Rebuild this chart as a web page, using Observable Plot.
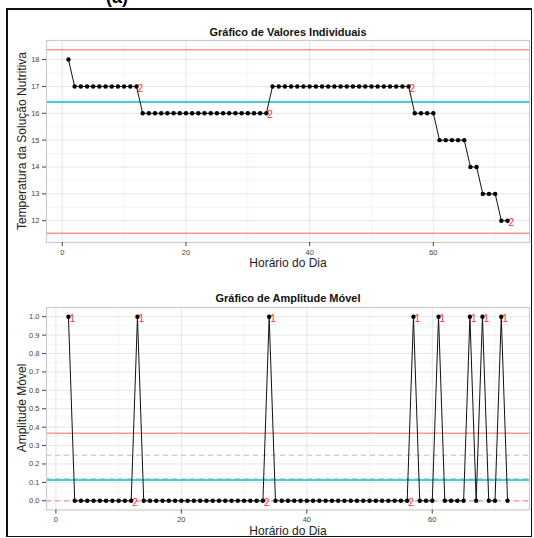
<!DOCTYPE html>
<html>
<head>
<meta charset="utf-8">
<script src="https://cdn.jsdelivr.net/npm/d3@7"></script>
<script src="https://cdn.jsdelivr.net/npm/@observablehq/plot@0.6"></script>
<style>
  html, body { margin:0; padding:0; background:#fff; }
  body { width:534px; height:538px; position:relative; overflow:hidden; font-family:"Liberation Sans", Arial, sans-serif; }
  .abs { position:absolute; line-height:1; }
  .frameBox { left:6px; top:8px; width:523px; height:526px; border:2px solid #111; border-right-width:1px; border-bottom-width:1px; }
  .title { font-weight:bold; font-size:11px; color:#111; transform:translateX(-50%); white-space:nowrap; }
  .xlab { font-size:12px; color:#222; transform:translateX(-50%); white-space:nowrap; }
  .ylab { font-size:12px; color:#222; white-space:nowrap; transform:translate(-50%,-50%) rotate(-90deg); }
  svg { position:absolute; left:0; }
</style>
</head>
<body>
<script>
// ---- data ----
const hours = [1,2,3,4,5,6,7,8,9,10,11,12,13,14,15,16,17,18,19,20,21,22,23,24,25,26,27,28,29,30,31,32,33,34,35,36,37,38,39,40,41,42,43,44,45,46,47,48,49,50,51,52,53,54,55,56,57,58,59,60,61,62,63,64,65,66,67,68,69,70,71,72];
const temperatura = [18,17,17,17,17,17,17,17,17,17,17,17,16,16,16,16,16,16,16,16,16,16,16,16,16,16,16,16,16,16,16,16,16,17,17,17,17,17,17,17,17,17,17,17,17,17,17,17,17,17,17,17,17,17,17,17,16,16,16,16,15,15,15,15,15,14,14,13,13,13,12,12];
const mrHours = [2,3,4,5,6,7,8,9,10,11,12,13,14,15,16,17,18,19,20,21,22,23,24,25,26,27,28,29,30,31,32,33,34,35,36,37,38,39,40,41,42,43,44,45,46,47,48,49,50,51,52,53,54,55,56,57,58,59,60,61,62,63,64,65,66,67,68,69,70,71,72];
const amplitude = [1,0,0,0,0,0,0,0,0,0,0,1,0,0,0,0,0,0,0,0,0,0,0,0,0,0,0,0,0,0,0,0,1,0,0,0,0,0,0,0,0,0,0,0,0,0,0,0,0,0,0,0,0,0,0,1,0,0,0,1,0,0,0,0,1,0,1,0,0,1,0];
// rule-violation labels
const topFlagHours = [12,33,56,72];
const topFlagValues = [17,16,17,12];
const topFlagText = ["2","2","2","2"];
const botFlagHours = [2,13,34,57,61,66,68,71,12,33,56];
const botFlagValues = [1,1,1,1,1,1,1,1,0,0,0];
const botFlagText = ["1","1","1","1","1","1","1","1","2","2","2"];
// control limits
const topLimits = {ucl:18.37, center:16.42, lcl:11.53};
const botLimits = {ucl:0.367, center:0.1127, lcl:0, zoneA:0.247, zoneB:0.121};
// ticks
const xTicks = [0,20,40,60];
const xMinor = [10,30,50,70];
const topYTicks = [12,13,14,15,16,17,18];
const topYMinor = [11.5,12.5,13.5,14.5,15.5,16.5,17.5,18.5];
const botYTicks = [0,0.1,0.2,0.3,0.4,0.5,0.6,0.7,0.8,0.9,1.0];
const botYMinor = [0.05,0.15,0.25,0.35,0.45,0.55,0.65,0.75,0.85,0.95];

const ptsTop = hours.map((h,i)=>({x:h, y:temperatura[i]}));
const ptsBot = mrHours.map((h,i)=>({x:h, y:amplitude[i]}));
const flTop = topFlagHours.map((h,i)=>({x:h, y:topFlagValues[i], t:topFlagText[i]}));
const flBot = botFlagHours.map((h,i)=>({x:h, y:botFlagValues[i], t:botFlagText[i]}));

const RED = "#F8766D", CYAN = "#00BFC4";
const font = "Liberation Sans, Arial, sans-serif";

function panel({pts, flags, xDomain, yDomain, yTicks, yMinor, yFmt, limits, height, mt, mb, extra}) {
  return Plot.plot({
    width: 534, height, marginLeft: 46, marginRight: 5, marginTop: mt, marginBottom: mb,
    style: {fontFamily: font, background: "transparent", overflow: "visible"},
    x: {domain: xDomain, axis: null},
    y: {domain: yDomain, axis: null},
    marks: [
      Plot.ruleX(xMinor, {stroke: "#f4f4f4", strokeWidth: 1}),
      Plot.ruleY(yMinor, {stroke: "#f4f4f4", strokeWidth: 1}),
      Plot.ruleX(xTicks, {stroke: "#e6e6e6", strokeWidth: 1}),
      Plot.ruleY(yTicks, {stroke: "#e6e6e6", strokeWidth: 1}),
      ...extra,
      Plot.ruleY([limits.ucl], {stroke: RED, strokeOpacity: 0.75, strokeWidth: 1.5}),
      Plot.ruleY([limits.center], {stroke: CYAN, strokeOpacity: 0.75, strokeWidth: 2}),
      Plot.line(pts, {x: "x", y: "y", stroke: "#111", strokeWidth: 1}),
      Plot.dot(pts, {x: "x", y: "y", r: 2.2, fill: "#000", stroke: "none"}),
      Plot.text(flags, {x: "x", y: "y", text: "t", fill: "#ff3030", fontSize: 10, textAnchor: "start", dx: 1, dy: 2}),
      Plot.frame({stroke: "#cccccc", strokeWidth: 1.2}),
      Plot.axisX(xTicks, {tickSize: 4, tickPadding: 3, fontSize: 7.5, label: null, color: "#444", tickFormat: d => String(d)}),
      Plot.axisY(yTicks, {tickSize: 4, tickPadding: 3, fontSize: 7.5, label: null, color: "#444", tickFormat: yFmt})
    ]
  });
}

const topChart = panel({
  pts: ptsTop, flags: flTop,
  xDomain: [-2.55, 75.55], yDomain: [11.19, 18.71],
  yTicks: topYTicks, yMinor: topYMinor, yFmt: d => String(d),
  limits: topLimits, height: 270, mt: 40, mb: 28,
  extra: [Plot.ruleY([topLimits.lcl], {stroke: RED, strokeOpacity: 0.75, strokeWidth: 1.5})]
});
topChart.style.top = "0px";
document.body.appendChild(topChart);

const botChart = panel({
  pts: ptsBot, flags: flBot,
  xDomain: [-1.5, 75.5], yDomain: [-0.05, 1.05],
  yTicks: botYTicks, yMinor: botYMinor, yFmt: d => d.toFixed(1),
  limits: botLimits, height: 273, mt: 42, mb: 28.5,
  extra: [
    Plot.ruleY([botLimits.zoneA, botLimits.zoneB], {stroke: "#cfcfcf", strokeWidth: 1.2, strokeDasharray: "5,4"}),
    Plot.ruleY([botLimits.lcl], {stroke: RED, strokeOpacity: 0.75, strokeWidth: 1.2, strokeDasharray: "5,4"})
  ]
});
botChart.style.top = "265px";
document.body.appendChild(botChart);

function addDiv(cls, text, left, topPx) {
  const d = document.createElement("div");
  d.className = "abs " + cls;
  d.textContent = text;
  d.style.left = left + "px";
  d.style.top = topPx + "px";
  document.body.appendChild(d);
  return d;
}
const fb = document.createElement("div");
fb.className = "abs frameBox";
document.body.appendChild(fb);
const lab = addDiv("", "(a)", 106, -12);
lab.style.fontWeight = "bold"; lab.style.fontSize = "18px";
addDiv("title", "Gráfico de Valores Individuais", 288, 27);
addDiv("title", "Gráfico de Amplitude Móvel", 288, 293);
addDiv("xlab", "Horário do Dia", 288, 257);
addDiv("xlab", "Horário do Dia", 288, 525);
addDiv("ylab", "Temperatura da Solução Nutritiva", 22, 141);
addDiv("ylab", "Amplitude Móvel", 22, 408);
</script>
</body>
</html>
